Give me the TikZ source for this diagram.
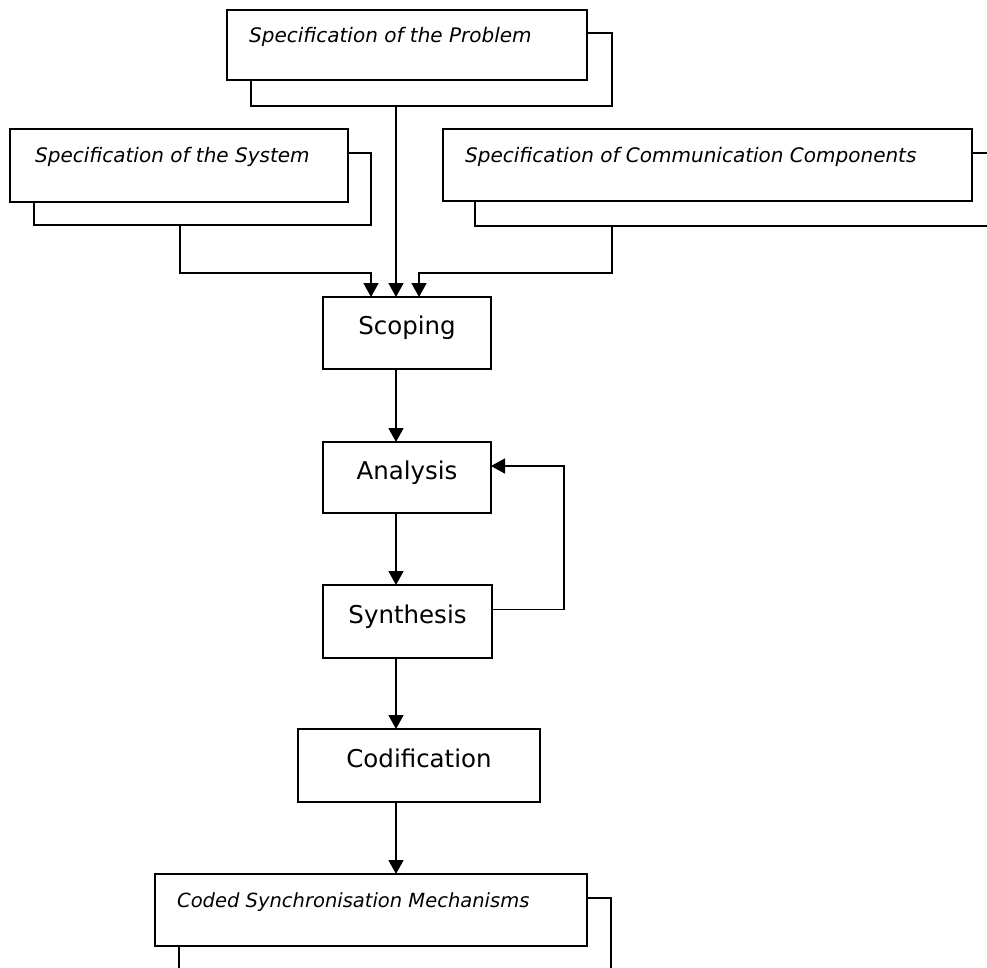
\documentclass[tikz,border=0pt]{standalone}
\usepackage{fontspec}
\setmainfont{DejaVu Sans}
\usetikzlibrary{arrows.meta}
\begin{document}
\begin{tikzpicture}[x=1pt,y=-1pt,
  box/.style={draw, line width=2.3pt, fill=white, rectangle, inner sep=0pt, outer sep=0pt},
  stepbox/.style={box, font=\fontsize{24.5}{28}\selectfont, text height=0.72em, text depth=0.36em},
  docbox/.style={box, anchor=north west},
  spectext/.style={font=\fontsize{20}{24}\selectfont\itshape, anchor=base west, inner sep=0pt},
  flow/.style={line width=1.7pt, -{Triangle[length=14pt,width=15pt]}}]
\useasboundingbox (0,0) rectangle (987,968);
\clip (0,0) rectangle (987,968);

% stacked document boxes: back sheet first, front sheet on top
\node[docbox, minimum width=361pt, minimum height=73pt] (pback) at (251,33) {};
\node[docbox, minimum width=360pt, minimum height=70pt] (pfront) at (227,10) {};
\node[spectext] (ptext) at ([xshift=22pt,yshift=-33pt]pfront.north west) {Specification of the Problem};

\node[docbox, minimum width=337pt, minimum height=72pt] (sback) at (34,153) {};
\node[docbox, minimum width=338pt, minimum height=73pt] (sfront) at (10,129) {};
\node[spectext] (stext) at ([xshift=25pt,yshift=-34pt]sfront.north west) {Specification of the System};

\node[docbox, minimum width=522pt, minimum height=73pt] (cback) at (475,153) {};
\node[docbox, minimum width=529pt, minimum height=72pt] (cfront) at (443,129) {};
\node[spectext] (ctext) at ([xshift=22pt,yshift=-34pt]cfront.north west) {Specification of Communication Components};

\node[docbox, minimum width=432pt, minimum height=72pt] (mback) at (179,898) {};
\node[docbox, minimum width=432pt, minimum height=72pt] (mfront) at (155,874) {};
\node[spectext, font=\fontsize{19.5}{24}\selectfont\itshape] (mtext) at ([xshift=22pt,yshift=-33pt]mfront.north west) {Coded Synchronisation Mechanisms};

% process steps
\node[stepbox, minimum width=168pt, minimum height=72pt] (scoping) at (407,333) {Scoping};
\node[stepbox, minimum width=168pt, minimum height=71pt] (analysis) at (407,477.5) {Analysis};
\node[stepbox, minimum width=169pt, minimum height=73pt] (synthesis) at (407.5,621.5) {Synthesis};
\node[stepbox, minimum width=242pt, minimum height=73pt] (codification) at (419,765.5) {Codification};

% helper coordinates for the connector routes
\coordinate (col) at (396,0);
\coordinate (sin) at (371,0);
\coordinate (cin) at (419,0);
\coordinate (sdrop) at (180,273);
\coordinate (cdrop) at (612,273);

% inputs into scoping
\draw[flow] (pback.south -| col) -- (scoping.north -| col);
\draw[flow] (sback.south -| sdrop) -- (sdrop) -| (scoping.north -| sin);
\draw[flow] (cback.south -| cdrop) -- (cdrop) -| (scoping.north -| cin);

% main chain
\draw[flow] (scoping.south -| col) -- (analysis.north -| col);
\draw[flow] (analysis.south -| col) -- (synthesis.north -| col);
\draw[flow] (synthesis.south -| col) -- (codification.north -| col);
\draw[flow] (codification.south -| col) -- (mfront.north -| col);

% feedback from synthesis to analysis
\draw[flow] ([yshift=12pt]synthesis.east) -- ++(72,0) |- ([yshift=11.5pt]analysis.east);
\end{tikzpicture}
\end{document}
